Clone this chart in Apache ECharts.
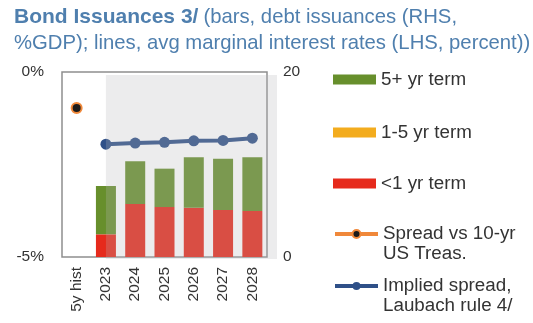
<!DOCTYPE html>
<html>
<head>
<meta charset="utf-8">
<script src="https://cdn.jsdelivr.net/npm/echarts@6/dist/echarts.min.js"></script>
<style>
  html, body { margin: 0; padding: 0; background: #fff; }
  #chart { width: 533px; height: 323px; }
</style>
</head>
<body>
<div id="chart"></div>
<script>
// Categories and series (bars on the right axis, % of GDP; lines on the left axis, percent)
const categories = ['5y hist', '2023', '2024', '2025', '2026', '2027', '2028'];
const shortTerm = [null, 2.45, 5.73, 5.40, 5.33, 5.08, 4.97];   // <1 yr term
const midTerm = [null, 0, 0, 0, 0, 0, 0];                         // 1-5 yr term
const longTerm = [null, 5.23, 4.62, 4.15, 5.45, 5.55, 5.81];    // 5+ yr term
const spreadHist = [-0.97, null, null, null, null, null, null];   // spread vs 10-yr US Treasuries
const impliedSpread = [null, -1.95, -1.92, -1.90, -1.86, -1.85, -1.79];
const leftTicks = { min: -5, max: 0, interval: 5 };
const rightTicks = { min: 0, max: 20, interval: 20 };

const FONT = '"Liberation Sans", Arial, sans-serif';
const TXT = '#333333';
const GREEN = '#678f2c';
const ORANGE = '#f3ac1e';
const RED = '#e62a1c';
const BLUE = '#2f5088';
const SPREAD_ORANGE = '#f0883a';
const TITLE_BLUE = '#4f7fae';
const AXIS_FONT = 15.5;
const LEGEND_FONT = 18.8;

const chart = echarts.init(document.getElementById('chart'), null, { renderer: 'canvas' });

// One legend block per entry so each can sit at its own height.
// Two-line entries get a blank first line so the icon lines up with the first text line.
function legendBox(name, centerY, twoLines, icon) {
  const box = {
    orient: 'vertical',
    left: 333,
    itemWidth: 43,
    itemHeight: 10,
    itemGap: 0,
    padding: 0,
    data: [icon ? { name: name, icon: icon } : name],
    lineStyle: { width: 4 },
    textStyle: { fontFamily: FONT, fontSize: LEGEND_FONT, color: TXT }
  };
  if (twoLines) {
    box.top = centerY - 30;
    box.textStyle.lineHeight = 20;
    box.formatter = n => ' \n' + n;
  } else {
    box.top = centerY - 9;
  }
  return box;
}

const option = {
  animation: false,
  title: {
    left: 14,
    top: 4,
    padding: 0,
    text: '{b|Bond Issuances 3/} {n|(bars, debt issuances (RHS,}\n{n|%GDP); lines, avg marginal interest rates (LHS, percent))}',
    textStyle: {
      fontFamily: FONT,
      fontWeight: 'normal',
      rich: {
        b: { fontFamily: FONT, fontSize: 21, fontWeight: 'bold', color: TITLE_BLUE, lineHeight: 26 },
        n: { fontFamily: FONT, fontSize: 20.3, fontWeight: 'normal', color: TITLE_BLUE, lineHeight: 26 }
      }
    }
  },
  legend: [
    legendBox('5+ yr term', 79, false, 'rect'),
    legendBox('1-5 yr term', 132, false, 'rect'),
    legendBox('<1 yr term', 183, false, 'rect'),
    legendBox('Spread vs 10-yr\nUS Treas.', 234, true),
    legendBox('Implied spread,\nLaubach rule 4/', 286, true)
  ],
  grid: {
    left: 62, right: 266, top: 72, bottom: 66,
    show: true, borderColor: '#8e8e8e', borderWidth: 1.5, backgroundColor: 'transparent'
  },
  xAxis: {
    type: 'category',
    data: categories,
    axisLine: { show: false },
    axisTick: { show: false },
    axisLabel: { rotate: 90, margin: 10, fontFamily: FONT, fontSize: AXIS_FONT, color: TXT, interval: 0 }
  },
  yAxis: [
    {
      type: 'value', position: 'left',
      min: leftTicks.min, max: leftTicks.max, interval: leftTicks.interval,
      axisLine: { show: false }, axisTick: { show: false }, splitLine: { show: false },
      axisLabel: { formatter: '{value}%', margin: 18, fontFamily: FONT, fontSize: AXIS_FONT, color: TXT }
    },
    {
      type: 'value', position: 'right',
      min: rightTicks.min, max: rightTicks.max, interval: rightTicks.interval,
      axisLine: { show: false }, axisTick: { show: false }, splitLine: { show: false },
      axisLabel: { margin: 16, fontFamily: FONT, fontSize: AXIS_FONT, color: TXT }
    }
  ],
  series: [
    { name: '<1 yr term', type: 'bar', stack: 'issuance', yAxisIndex: 1, data: shortTerm,
      barWidth: 20, itemStyle: { color: RED } },
    { name: '1-5 yr term', type: 'bar', stack: 'issuance', yAxisIndex: 1, data: midTerm,
      barWidth: 20, itemStyle: { color: ORANGE } },
    { name: '5+ yr term', type: 'bar', stack: 'issuance', yAxisIndex: 1, data: longTerm,
      barWidth: 20, itemStyle: { color: GREEN } },
    { name: 'Spread vs 10-yr\nUS Treas.', type: 'line', yAxisIndex: 0, data: spreadHist,
      symbol: 'circle', symbolSize: 10, z: 5,
      lineStyle: { color: SPREAD_ORANGE, width: 4 },
      itemStyle: { color: '#1b1b1b', borderColor: SPREAD_ORANGE, borderWidth: 2 } },
    { name: 'Implied spread,\nLaubach rule 4/', type: 'line', yAxisIndex: 0, data: impliedSpread,
      symbol: 'circle', symbolSize: 11, z: 5,
      lineStyle: { color: BLUE, width: 4 },
      itemStyle: { color: BLUE } }
  ]
};

chart.setOption(option);

// Projection period shading, laid over the marks from the 2023 category centre onward
const x0 = chart.convertToPixel({ xAxisIndex: 0 }, '2023');
const band = chart.convertToPixel({ xAxisIndex: 0 }, '2024') - x0;
const xEnd = chart.convertToPixel({ xAxisIndex: 0 }, '2028') + band / 2 + 10;
const yTop = chart.convertToPixel({ yAxisIndex: 0 }, leftTicks.max) + 3;
const yBot = chart.convertToPixel({ yAxisIndex: 0 }, leftTicks.min) + 2;
chart.setOption({
  graphic: [{
    type: 'rect', z: 100, silent: true,
    shape: { x: x0, y: yTop, width: xEnd - x0, height: yBot - yTop },
    style: { fill: 'rgba(180,180,186,0.26)' }
  }]
});
</script>
</body>
</html>
